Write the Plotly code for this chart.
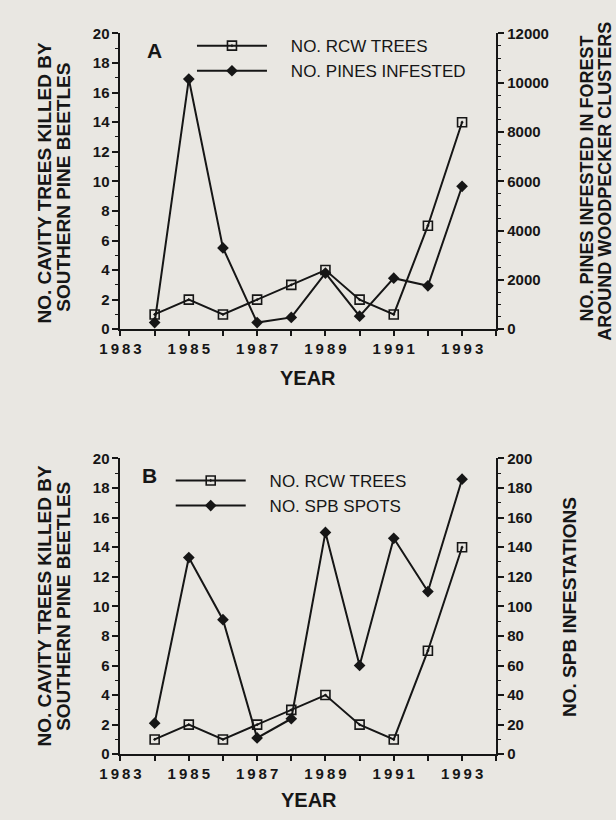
import plotly.graph_objects as go

W, H = 616, 820

# --- data ---
years = [1984, 1985, 1986, 1987, 1988, 1989, 1990, 1991, 1992, 1993]
rcw_trees = [1, 2, 1, 2, 3, 4, 2, 1, 7, 14]
pines_infested = [270, 10150, 3300, 270, 480, 2280, 530, 2070, 1760, 5800]
spb_spots = [21, 133, 91, 11, 24, 150, 60, 146, 110, 186]

year_ticks = [1983, 1985, 1987, 1989, 1991, 1993]
year_labels = ["\u2009".join(str(y)) for y in year_ticks]

BG = "#e9e7e2"
INK = "#161616"
FONT = "Liberation Sans"
GAP = "\u00a0" * 4  # pushes legend text away from the key line


def px(x):
    return x / W


def py(y):
    return 1 - y / H


x_dom = [px(103), px(492)]
a_dom = [py(327), py(25)]
b_dom = [py(761), py(459)]

fig = go.Figure()

square = dict(symbol="square-open-dot", size=9, color=INK, line=dict(width=1.6, color=INK))
diamond = dict(symbol="diamond", size=9, color=INK, line=dict(width=0))
line = dict(color=INK, width=2)

# --- Panel A ---
fig.add_trace(go.Scatter(
    x=years, y=rcw_trees, mode="lines+markers", name=GAP + "NO. RCW TREES",
    line=line, marker=square, xaxis="x", yaxis="y", legend="legend", cliponaxis=False,
))
fig.add_trace(go.Scatter(
    x=years, y=pines_infested, mode="lines+markers", name=GAP + "NO. PINES INFESTED",
    line=line, marker=diamond, xaxis="x", yaxis="y2", legend="legend", cliponaxis=False,
))

# --- Panel B ---
fig.add_trace(go.Scatter(
    x=years, y=rcw_trees, mode="lines+markers", name=GAP + "NO. RCW TREES",
    line=line, marker=square, xaxis="x2", yaxis="y3", legend="legend2", cliponaxis=False,
))
fig.add_trace(go.Scatter(
    x=years, y=spb_spots, mode="lines+markers", name=GAP + "NO. SPB SPOTS",
    line=line, marker=diamond, xaxis="x2", yaxis="y4", legend="legend2", cliponaxis=False,
))

tickfont = dict(family=FONT, size=15, color=INK, weight="bold")

xaxis_common = dict(
    domain=x_dom, range=[1983, 1994], tickvals=year_ticks, ticktext=year_labels,
    ticks="outside", ticklen=5, tickwidth=1.5, tickcolor=INK,
    minor=dict(dtick=1, tick0=1983, ticks="outside", ticklen=5, tickwidth=1.5, tickcolor=INK),
    showline=True, linecolor=INK, linewidth=2, showgrid=False, zeroline=False,
    tickfont=tickfont, fixedrange=True,
)


def yaxis_common(rng, dtick, minor, side="left"):
    return dict(
        range=rng, dtick=dtick, tick0=0, side=side, tickformat="d",
        ticks="outside", ticklen=6, tickwidth=1.5, tickcolor=INK,
        minor=dict(dtick=minor, tick0=0, ticks="outside", ticklen=3, tickwidth=1.2, tickcolor=INK),
        showline=True, linecolor=INK, linewidth=2, showgrid=False, zeroline=False,
        tickfont=tickfont, fixedrange=True,
    )


legend_font = dict(family=FONT, size=17, color=INK)

fig.update_layout(
    width=W, height=H,
    margin=dict(l=0, r=0, t=0, b=0),
    paper_bgcolor=BG, plot_bgcolor=BG,
    xaxis=dict(xaxis_common, anchor="y"),
    yaxis=dict(yaxis_common([0, 20], 2, 1), domain=a_dom, anchor="x"),
    yaxis2=dict(yaxis_common([0, 12000], 2000, 500, "right"), overlaying="y", anchor="x"),
    xaxis2=dict(xaxis_common, anchor="y3"),
    yaxis3=dict(yaxis_common([0, 20], 2, 1), domain=b_dom, anchor="x2"),
    yaxis4=dict(yaxis_common([0, 200], 20, 10, "right"), overlaying="y3", anchor="x2"),
    legend=dict(
        x=px(177), y=py(19.5), xanchor="left", yanchor="top",
        bgcolor="rgba(0,0,0,0)", font=legend_font, itemwidth=70,
        tracegroupgap=0,
    ),
    legend2=dict(
        x=px(155), y=py(463.5), xanchor="left", yanchor="top",
        bgcolor="rgba(0,0,0,0)", font=legend_font, itemwidth=70,
        tracegroupgap=0,
    ),
    showlegend=True,
)


def note(text, x, y, size=19, angle=0, weight="bold"):
    fig.add_annotation(
        text=text, x=px(x), y=py(y), xref="paper", yref="paper",
        showarrow=False, textangle=angle, xanchor="center", yanchor="middle",
        font=dict(family=FONT, size=size, color=INK, weight=weight),
    )


# panel letters
note("A", 138, 42, size=21)
note("B", 133, 476, size=21)

# x titles
note("YEAR", 297, 377, size=20)
note("YEAR", 298, 808, size=20)

# left titles
note("NO. CAVITY TREES KILLED BY", 24, 178, angle=-90)
note("SOUTHERN PINE BEETLES", 44, 182, angle=-90)
note("NO. CAVITY TREES KILLED BY", 24, 610, angle=-90)
note("SOUTHERN PINE BEETLES", 44, 610, angle=-90)

# right titles
note("NO. PINES INFESTED IN FOREST", 586, 173, size=18, angle=-90)
note("AROUND WOODPECKER CLUSTERS", 605, 176, size=18, angle=-90)
note("NO. SPB INFESTATIONS", 568, 611, angle=-90)

fig.write_html(
    "out.html",
    config={"displayModeBar": False},
    post_script="document.body.style.margin='0';document.body.style.overflow='hidden';",
)
